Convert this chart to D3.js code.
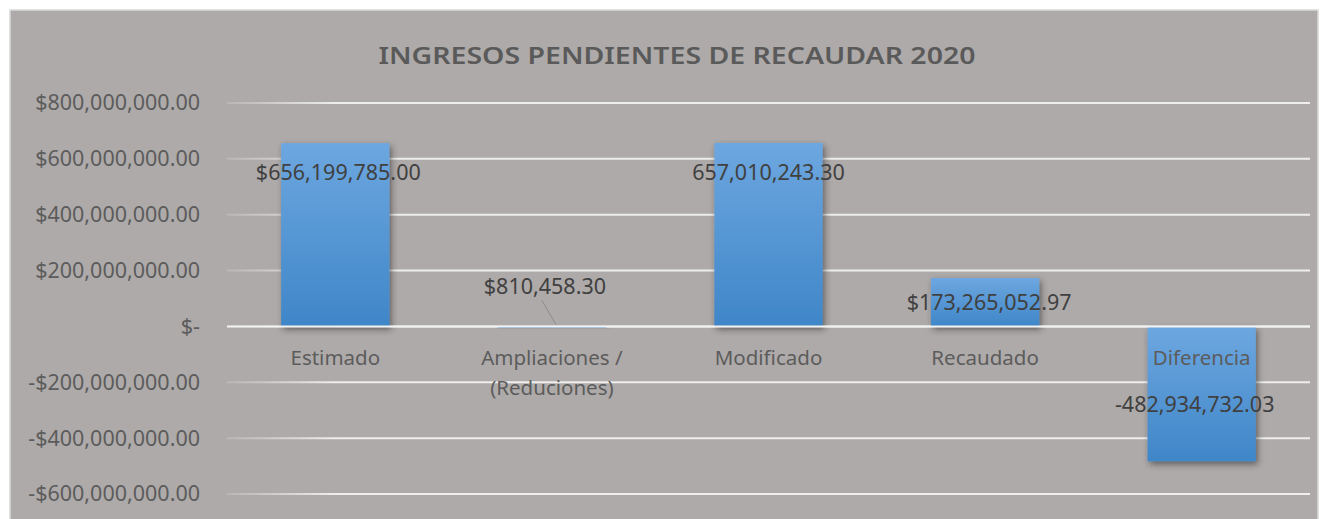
<!DOCTYPE html>
<html>
<head>
<meta charset="utf-8">
<script src="https://cdn.jsdelivr.net/npm/d3@7"></script>
<style>
  body { margin: 0; background: #ffffff; }
  text { font-family: "Noto Sans", "Open Sans", sans-serif; }
</style>
</head>
<body>
<script>
// chart data
var categories = ["Estimado", "Ampliaciones / (Reduciones)", "Modificado", "Recaudado", "Diferencia"];
var values = [656199785.00, 810458.30, 657010243.30, 173265052.97, -482934732.03];
var valueLabels = ["$656,199,785.00", "$810,458.30", "657,010,243.30", "$173,265,052.97", "-482,934,732.03"];
var tickValues = [800000000, 600000000, 400000000, 200000000, 0, -200000000, -400000000, -600000000];
var tickLabels = ["$800,000,000.00", "$600,000,000.00", "$400,000,000.00", "$200,000,000.00", "$-",
                  "-$200,000,000.00", "-$400,000,000.00", "-$600,000,000.00"];

var w = 1323, h = 519;
var margin = {left: 227, right: 13, top: 103, bottom: 25};

var svg = d3.select("body").append("svg")
    .attr("width", w)
    .attr("height", h);

var defs = svg.append("defs");

// bar fill, lighter blue at the top
var barGrad = defs.append("linearGradient")
    .attr("id", "barGrad")
    .attr("x1", 0).attr("y1", 0).attr("x2", 0).attr("y2", 1);
barGrad.append("stop").attr("offset", "0%").attr("stop-color", "#6da7e0");
barGrad.append("stop").attr("offset", "100%").attr("stop-color", "#3f86c8");

// gridlines fade in at the left end
var gridGrad = defs.append("linearGradient")
    .attr("id", "gridGrad")
    .attr("gradientUnits", "userSpaceOnUse")
    .attr("x1", margin.left).attr("x2", margin.left + 110).attr("y1", 0).attr("y2", 0);
gridGrad.append("stop").attr("offset", "0%").attr("stop-color", "#b9b6b5");
gridGrad.append("stop").attr("offset", "100%").attr("stop-color", "#eeeeee");

var shadow = defs.append("filter")
    .attr("id", "shadow")
    .attr("x", "-20%").attr("y", "-20%").attr("width", "140%").attr("height", "140%");
shadow.append("feDropShadow")
    .attr("dx", 2).attr("dy", 3).attr("stdDeviation", 3)
    .attr("flood-color", "#2a2a2a").attr("flood-opacity", 0.6);

// chart area (runs past the bottom edge)
svg.append("rect")
    .attr("x", 10).attr("y", 10)
    .attr("width", 1308).attr("height", h + 10)
    .attr("fill", "#aeaaa9")
    .attr("stroke", "#d9d9d9")
    .attr("stroke-width", 1.5);

svg.append("text")
    .attr("x", 677).attr("y", 64)
    .attr("text-anchor", "middle")
    .attr("font-size", 24)
    .attr("font-weight", 600)
    .attr("fill", "#5a5a5a")
    .attr("textLength", 597)
    .attr("lengthAdjust", "spacingAndGlyphs")
    .text("INGRESOS PENDIENTES DE RECAUDAR 2020");

var x = d3.scaleBand()
    .domain(categories)
    .range([margin.left, w - margin.right])
    .paddingInner(0.5)
    .paddingOuter(0.25);

var y = d3.scaleLinear()
    .domain([-600000000, 800000000])
    .range([494, 103]);

// gridlines
svg.append("g")
    .selectAll("line")
    .data(tickValues)
    .join("line")
    .attr("x1", margin.left)
    .attr("x2", w - margin.right)
    .attr("y1", function(d){ return y(d); })
    .attr("y2", function(d){ return y(d); })
    .attr("stroke", "url(#gridGrad)")
    .attr("stroke-width", 2);

// y axis labels
var yAxis = d3.axisLeft(y)
    .tickValues(tickValues)
    .tickSize(0)
    .tickPadding(0)
    .tickFormat(function(d, i){ return tickLabels[i]; });

var yg = svg.append("g")
    .attr("transform", "translate(" + 200 + ",0)")
    .call(yAxis);
yg.select(".domain").remove();
yg.selectAll("text")
    .attr("font-size", 21.5)
    .attr("fill", "#5c5c5c")
    .attr("font-family", "Noto Sans");

// bars
svg.append("g")
    .selectAll("rect")
    .data(values)
    .join("rect")
    .attr("x", function(d, i){ return x(categories[i]); })
    .attr("width", x.bandwidth())
    .attr("y", function(d){ return Math.min(y(d), y(0)); })
    .attr("height", function(d){ return Math.max(Math.abs(y(d) - y(0)), 1.5); })
    .attr("fill", "url(#barGrad)")
    .attr("filter", "url(#shadow)");

// zero line on top
svg.append("line")
    .attr("x1", margin.left).attr("x2", w - margin.right)
    .attr("y1", y(0)).attr("y2", y(0))
    .attr("stroke", "#f2f2f2")
    .attr("stroke-width", 2);

// category labels
var catLines = [["Estimado"], ["Ampliaciones /", "(Reduciones)"], ["Modificado"], ["Recaudado"], ["Diferencia"]];
var cat = svg.append("g")
    .selectAll("text")
    .data(categories)
    .join("text")
    .attr("text-anchor", "middle")
    .attr("font-size", 20.5)
    .attr("fill", "#5c5c5c")
    .attr("x", function(d){ return x(d) + x.bandwidth() / 2; })
    .attr("y", y(0) + 39);
cat.each(function(d, i){
    d3.select(this).selectAll("tspan")
        .data(catLines[i])
        .join("tspan")
        .attr("x", x(d) + x.bandwidth() / 2)
        .attr("dy", function(t, j){ return j === 0 ? 0 : 30; })
        .text(function(t){ return t; });
});

// data labels
var labelPos = [
    {dx: 3, y: y(values[0]) + 37},
    {dx: -7, y: y(0) - 32},
    {dx: 0, y: y(values[2]) + 37},
    {dx: 4, y: y(values[3]) + 32},
    {dx: -7, y: y(0) + 86}
];

// leader line for the tiny bar
svg.append("line")
    .attr("x1", x(categories[1]) + x.bandwidth() / 2 - 10)
    .attr("y1", y(0) - 26)
    .attr("x2", x(categories[1]) + x.bandwidth() / 2 + 4)
    .attr("y2", y(0) - 2)
    .attr("stroke", "#8c8c8c")
    .attr("stroke-width", 1);

svg.append("g")
    .selectAll("text")
    .data(values)
    .join("text")
    .attr("text-anchor", "middle")
    .attr("font-size", 21.5)
    .attr("fill", "#404040")
    .attr("x", function(d, i){ return x(categories[i]) + x.bandwidth() / 2 + labelPos[i].dx; })
    .attr("y", function(d, i){ return labelPos[i].y; })
    .text(function(d, i){ return valueLabels[i]; });
</script>
</body>
</html>
